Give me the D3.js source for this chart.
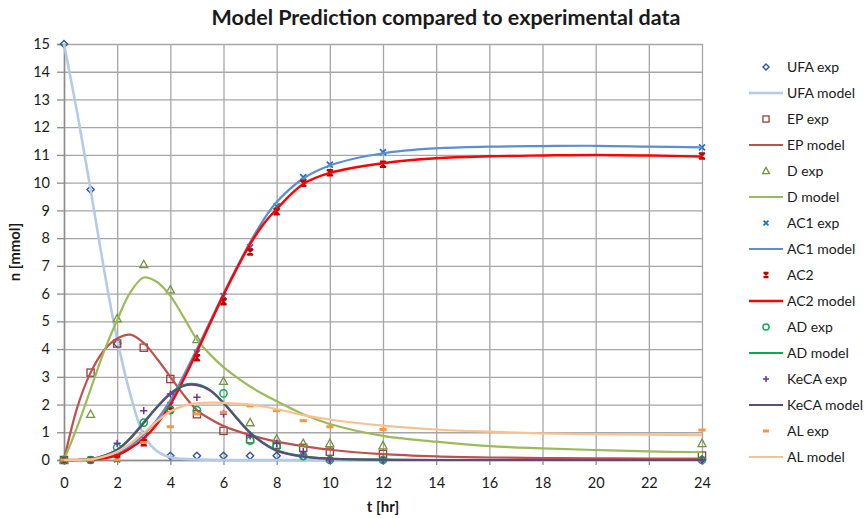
<!DOCTYPE html>
<html><head><meta charset="utf-8">
<script src="https://cdn.jsdelivr.net/npm/d3@7"></script>
<style>
body{margin:0;background:#fff}
svg{display:block}
text{font-family:Lato,"Open Sans",sans-serif;fill:#1a1a1a}
</style>
</head><body>
<svg id="chart" width="866" height="518"></svg>
<script>
// Sampling times (hours)
const expTimes = [0,1,2,3,4,5,6,7,8,9,10,12,24];
const modelTimes = [0,0.5,1,1.5,2,2.5,3,3.5,4,4.5,5,5.5,6,6.5,7,7.5,8,9,10,12,14,16,18,20,22,24];

// Measured amounts (mmol)
const ufaExp  = [15,9.75,4.2,0.9,0.15,0.15,0.15,0.15,0.15,0.12,0.02,0.01,0.02];
const epExp   = [0,3.15,4.2,4.05,2.92,1.65,1.05,0.75,0.55,0.44,0.3,0.22,0.16];
const dExp    = [0,1.65,5.1,7.05,6.14,4.35,2.84,1.35,0.76,0.6,0.6,0.52,0.6];
const ac1Exp  = [0,0,0.02,0.75,1.98,3.85,5.91,7.67,9.15,10.2,10.65,11.1,11.27];
const ac2Exp  = [0,0,0.06,0.62,1.8,3.69,5.71,7.5,8.95,9.98,10.36,10.66,10.96];
const adExp   = [0,0,0.45,1.35,1.8,1.8,2.4,0.7,0.48,0.14,0,0,0];
const kecaExp = [0,0,0.6,1.78,2.38,2.26,1.66,0.87,0.6,0.3,0,0,0];
const alExp   = [0,0,0,0.63,1.2,1.66,1.72,1.95,1.78,1.42,1.2,1.1,1.08];

// Model predictions (mmol)
const ufaModel  = [15,12.5,9.75,6.9,4.35,2.35,0.9,0.32,0.1,0.04,0.02,0.01,0,0,0,0,0,0,0,0,0,0,0,0,0,0];
const epModel   = [0,1.9,3.15,3.95,4.38,4.52,4.22,3.65,3.0,2.35,1.8,1.48,1.23,1.05,0.9,0.77,0.66,0.5,0.37,0.21,0.13,0.09,0.07,0.06,0.05,0.05];
const dModel    = [0,1.2,2.55,3.9,5.05,6.05,6.58,6.42,5.92,5.15,4.35,3.8,3.35,2.98,2.65,2.37,2.12,1.65,1.3,0.87,0.66,0.5,0.42,0.36,0.31,0.28];
const ac1Model  = [0,0,0.02,0.08,0.22,0.5,0.92,1.45,2.15,3.05,4.0,5.0,6.0,6.95,7.85,8.65,9.3,10.15,10.62,11.06,11.24,11.3,11.32,11.33,11.3,11.27];
const ac2Model  = [0,0,0.01,0.06,0.17,0.42,0.78,1.3,2.0,2.9,3.9,4.93,5.95,6.9,7.78,8.5,9.05,9.95,10.35,10.7,10.88,10.95,10.98,11.0,10.98,10.94];
const adModel   = [0,0,0.03,0.15,0.37,0.8,1.36,1.92,2.4,2.7,2.73,2.52,2.07,1.52,1.0,0.62,0.35,0.13,0.05,0.01,0,0,0,0,0,0];
const kecaModel = [0,0,0.03,0.15,0.36,0.78,1.33,1.9,2.38,2.67,2.7,2.5,2.05,1.5,0.98,0.6,0.33,0.12,0.05,0.01,0,0,0,0,0,0];
const alModel   = [0,0,0.02,0.12,0.3,0.6,0.98,1.4,1.75,1.95,2.04,2.07,2.06,2.03,2.0,1.93,1.84,1.62,1.46,1.24,1.1,1.02,0.96,0.93,0.91,0.9];

// Axis ticks
const xTicks = [0,2,4,6,8,10,12,14,16,18,20,22,24];
const yTicks = [0,1,2,3,4,5,6,7,8,9,10,11,12,13,14,15];

// Series in legend order
const series = [
  {name:"UFA exp",    type:"exp",   values:ufaExp,    color:"#2F5597", marker:"diamond"},
  {name:"UFA model",  type:"model", values:ufaModel,  color:"#B4CBE6", width:2.6},
  {name:"EP exp",     type:"exp",   values:epExp,     color:"#9B3B38", marker:"square"},
  {name:"EP model",   type:"model", values:epModel,   color:"#C0504D", width:2.2},
  {name:"D exp",      type:"exp",   values:dExp,      color:"#77933C", marker:"triangle"},
  {name:"D model",    type:"model", values:dModel,    color:"#9BBB59", width:2.2},
  {name:"AC1 exp",    type:"exp",   values:ac1Exp,    color:"#1F70C1", marker:"x"},
  {name:"AC1 model",  type:"model", values:ac1Model,  color:"#5B8FD3", width:2.2},
  {name:"AC2",        type:"exp",   values:ac2Exp,    color:"#C00000", marker:"star"},
  {name:"AC2 model",  type:"model", values:ac2Model,  color:"#FF0000", width:2.4},
  {name:"AD exp",     type:"exp",   values:adExp,     color:"#00B050", marker:"circle"},
  {name:"AD model",   type:"model", values:adModel,   color:"#00B050", width:2.2},
  {name:"KeCA exp",   type:"exp",   values:kecaExp,   color:"#7030A0", marker:"plus"},
  {name:"KeCA model", type:"model", values:kecaModel, color:"#604A7B", width:2.2},
  {name:"AL exp",     type:"exp",   values:alExp,     color:"#F79646", marker:"dash"},
  {name:"AL model",   type:"model", values:alModel,   color:"#FAC090", width:2.2}
];

const svg = d3.select("#chart");
const plot = {left:64, right:702, top:44, bottom:460};

const x = d3.scaleLinear().domain([0,24]).range([plot.left, plot.right]);
const y = d3.scaleLinear().domain([0,15]).range([plot.bottom, plot.top]);

// Title
svg.append("text")
  .attr("x", 446).attr("y", 25)
  .attr("text-anchor","middle")
  .style("font-size","21.5px").style("font-weight","bold")
  .text("Model Prediction compared to experimental data");

// Gridlines
const grid = svg.append("g").attr("class","grid");
grid.append("g")
  .attr("transform",`translate(0,${plot.bottom})`)
  .call(d3.axisBottom(x).tickValues(xTicks).tickSize(-(plot.bottom-plot.top)).tickFormat(""))
  .call(g => g.select(".domain").remove())
  .call(g => g.selectAll("line").attr("stroke","#A6A6A6").attr("stroke-width",1.3));
grid.append("g")
  .attr("transform",`translate(${plot.left},0)`)
  .call(d3.axisLeft(y).tickValues(yTicks).tickSize(-(plot.right-plot.left)).tickFormat(""))
  .call(g => g.select(".domain").remove())
  .call(g => g.selectAll("line").attr("stroke","#A6A6A6").attr("stroke-width",1.3));

// Axes
const yAxis = svg.append("g")
  .attr("transform",`translate(${plot.left},0)`)
  .call(d3.axisLeft(y).tickValues(yTicks).tickSize(7).tickPadding(7));
const xAxis = svg.append("g")
  .attr("transform",`translate(0,${plot.bottom})`)
  .call(d3.axisBottom(x).tickValues(xTicks).tickSize(5).tickPadding(13));
[yAxis, xAxis].forEach(a => {
  a.select(".domain").attr("stroke","#8C8C8C").attr("stroke-width",1.5);
  a.selectAll(".tick line").attr("stroke","#8C8C8C").attr("stroke-width",1.3);
  a.selectAll("text").style("font-size","14.5px").style("font-family","Lato, sans-serif").attr("fill","#1a1a1a");
});

// Axis titles
svg.append("text")
  .attr("x", (plot.left+plot.right)/2).attr("y", 512)
  .attr("text-anchor","middle")
  .style("font-size","15px").style("font-weight","bold")
  .text("t [hr]");
svg.append("text")
  .attr("transform",`translate(20,${(plot.top+plot.bottom)/2}) rotate(-90)`)
  .attr("text-anchor","middle")
  .style("font-size","15px").style("font-weight","bold")
  .text("n [mmol]");

// Marker shapes
function drawMarker(g, kind, color, scale) {
  const s = 3.6 * (scale || 1);
  if (kind === "diamond") {
    g.append("path").attr("d",`M0,${-s}L${s},0L0,${s}L${-s},0Z`)
      .attr("fill","none").attr("stroke",color).attr("stroke-width",1.4);
  } else if (kind === "square") {
    g.append("rect").attr("x",-s).attr("y",-s).attr("width",2*s).attr("height",2*s)
      .attr("fill","none").attr("stroke",color).attr("stroke-width",1.3);
  } else if (kind === "triangle") {
    g.append("path").attr("d",`M0,${-s-0.6}L${s+0.4},${s-0.4}L${-s-0.4},${s-0.4}Z`)
      .attr("fill","none").attr("stroke",color).attr("stroke-width",1.3);
  } else if (kind === "x") {
    g.append("path").attr("d",`M${-s+0.6},${-s+0.6}L${s-0.6},${s-0.6}M${s-0.6},${-s+0.6}L${-s+0.6},${s-0.6}`)
      .attr("stroke",color).attr("stroke-width",1.7);
  } else if (kind === "star") {
    const a = s-0.6;
    g.append("path").attr("d",`M${-a},${-a}L${a},${a}M${a},${-a}L${-a},${a}M${-a},${-a}L${a},${-a}M${-a},${a}L${a},${a}M0,${-a}L0,${a}`)
      .attr("stroke",color).attr("stroke-width",1.5);
  } else if (kind === "circle") {
    g.append("circle").attr("r",s).attr("fill","none").attr("stroke",color).attr("stroke-width",1.5);
  } else if (kind === "plus") {
    g.append("path").attr("d",`M${-s},0L${s},0M0,${-s}L0,${s}`)
      .attr("stroke",color).attr("stroke-width",1.5);
  } else if (kind === "dash") {
    g.append("rect").attr("x",-s).attr("y",-1.5).attr("width",2*s).attr("height",3)
      .attr("fill",color);
  }
}

// Series (smoothed lines through the model samples)
const line = d3.line().curve(d3.curveCatmullRom.alpha(0.5));
const marks = svg.append("g");
series.forEach(sr => {
  if (sr.type === "model") {
    marks.append("path")
      .attr("d", line(modelTimes.map((t,i) => [x(t), y(sr.values[i])])))
      .attr("fill","none").attr("stroke",sr.color).attr("stroke-width",sr.width)
      .attr("stroke-linejoin","round");
  } else {
    const g = marks.append("g");
    expTimes.forEach((t,i) => {
      const m = g.append("g").attr("transform",`translate(${x(t)},${y(sr.values[i])})`);
      drawMarker(m, sr.marker, sr.color);
    });
  }
});

// Legend
const legend = svg.append("g");
series.forEach((sr,i) => {
  const ly = 67 + i*26;
  const g = legend.append("g").attr("transform",`translate(0,${ly})`);
  if (sr.type === "model") {
    g.append("line").attr("x1",749).attr("x2",783).attr("y1",0).attr("y2",0)
      .attr("stroke",sr.color).attr("stroke-width",sr.width);
  } else {
    const m = g.append("g").attr("transform","translate(766,0)");
    drawMarker(m, sr.marker, sr.color, 0.85);
  }
  g.append("text").attr("x",787).attr("y",0).attr("dy","0.35em")
    .style("font-size","14px").text(sr.name);
});
</script>
</body></html>
